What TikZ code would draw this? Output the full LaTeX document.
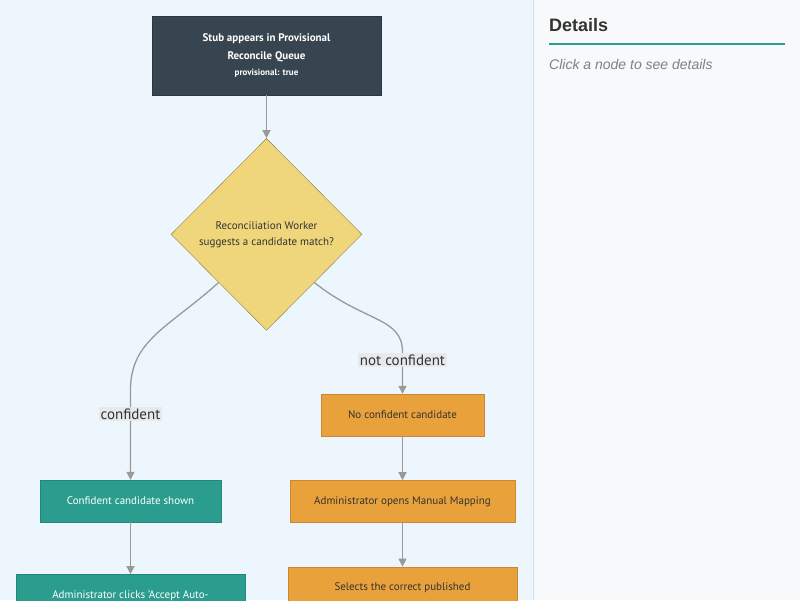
\documentclass[tikz,border=0pt]{standalone}
\usepackage{fontspec}
\setmainfont{PT Sans}
\newfontfamily\panelfont{Liberation Sans}
\usetikzlibrary{shapes.geometric,arrows.meta,positioning}
\definecolor{canvas}{HTML}{EEF6FD}
\definecolor{panel}{HTML}{F7F9FB}
\definecolor{rule}{HTML}{D5DEE6}
\definecolor{slate}{HTML}{36454F}
\definecolor{teal}{HTML}{2A9D8F}
\definecolor{amber}{HTML}{E9A23B}
\definecolor{sand}{HTML}{EFD67B}
\definecolor{edge}{HTML}{999999}
\definecolor{ink}{HTML}{333333}

\begin{document}
\begin{tikzpicture}[x=1pt,y=-1pt,font=\fontsize{11}{16}\selectfont,
  box/.style={draw,align=center,inner sep=4pt},
  dark/.style={box,fill=slate,draw=slate!80!black,text=white,minimum width=229pt,minimum height=79pt},
  yes/.style={box,fill=teal,draw=teal!85!black,text=white,minimum height=42pt},
  no/.style={box,fill=amber,draw=amber!85!black,text=ink,minimum height=42pt},
  ask/.style={diamond,draw=sand!60!black,fill=sand,text=ink,align=center,minimum width=191pt,minimum height=192pt,inner sep=0pt},
  arr/.style={-{Triangle[length=8pt,width=8pt]},edge,line width=1.3pt},
  lbl/.style={fill=black!9,fill opacity=0.9,text opacity=1,text=ink,font=\fontsize{15}{17}\selectfont,inner sep=1.5pt}]
\useasboundingbox (0,0) rectangle (800,600);
\clip (0,0) rectangle (800,600);
% canvas and side panel
\fill[canvas] (0,0) rectangle (533,600);
\fill[panel] (533,0) rectangle (800,600);
\draw[rule,line width=1.5pt] (533.5,0) -- (533.5,600);
\node[font=\panelfont\bfseries\fontsize{18}{20}\selectfont,text=ink,anchor=west,inner sep=0pt] (title) at (549,25) {Details};
\draw[teal,line width=2pt] (549,44) -- (785,44);
\node[font=\panelfont\itshape\fontsize{14}{16}\selectfont,text=black!50,anchor=west,inner sep=0pt] (hint) at (549,64) {Click a node to see details};
% flow
\node[dark,font=\bfseries\fontsize{11}{18}\selectfont] (stub) at (266.5,55.5) {Stub appears in Provisional\\Reconcile Queue\\[-2pt]{\fontsize{9}{10}\selectfont provisional: true}};
\node[ask,below=43pt of stub] (match) {Reconciliation Worker\\suggests a candidate match?};
\node[no,minimum width=163pt] (nocand) at (402.5,415) {No confident candidate};
\node[yes,minimum width=181pt] (shown) at (130.5,501) {Confident candidate shown};
\node[no,minimum width=225pt,below=44pt of nocand] (manual) {Administrator opens Manual Mapping};
\node[yes,minimum width=229pt,inner ysep=15pt,below=52pt of shown] (accept) {Administrator clicks 'Accept Auto-};
\node[no,minimum width=229pt,inner ysep=15pt,below=44pt of manual] (select) {Selects the correct published};
\draw[arr] (stub) -- (match);
\draw[arr] (match.south west) .. controls +(-50,45) and +(0,-50) .. (shown.north |- 0,390) -- node[lbl,pos=0.27]{confident} (shown.north);
\draw[arr] (match.south east) .. controls +(50,40) and +(0,-35) .. (nocand.north |- 0,352) -- node[lbl,pos=0.2]{not confident} (nocand.north);
\draw[arr] (shown) -- (accept);
\draw[arr] (nocand) -- (manual);
\draw[arr] (manual) -- (select);
\end{tikzpicture}
\end{document}
